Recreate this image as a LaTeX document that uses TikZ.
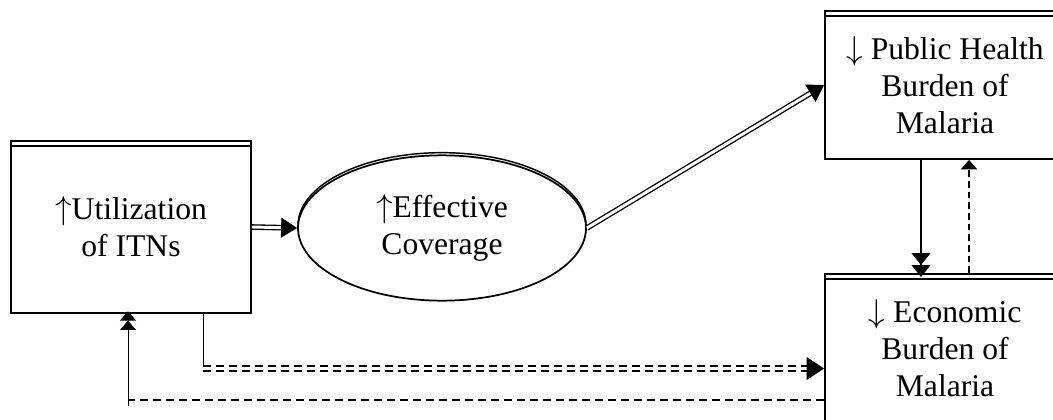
\documentclass[tikz,border=0pt]{standalone}
\usepackage{fontspec}
\setmainfont{Liberation Serif}
\usetikzlibrary{arrows.meta,shapes.geometric}

\tikzset{
  txt/.style={font=\fontsize{23.7}{27.75}\selectfont, align=center},
  box/.style={txt, draw, line width=1.4pt, minimum width=180pt, inner sep=2pt,
    path picture={\draw[line width=1.1pt]
      ([yshift=-3.75pt]path picture bounding box.north west) --
      ([yshift=-3.75pt]path picture bounding box.north east);}},
  oval/.style={txt, ellipse, draw, fill=white, line width=1.3pt,
    minimum width=216pt, minimum height=109pt, inner sep=0pt,
    preaction={draw, line width=1.1pt, transform canvas={yshift=2pt}}},
  dline/.style={double, line width=1pt, double distance=2.2pt,
    -{Triangle[length=12pt,width=15pt]}},
  sline/.style={line width=1.4pt,
    -{Triangle[length=9pt,width=14pt] Triangle[length=9pt,width=14pt,sep=-3pt]}},
  vdash/.style={line width=1.1pt, dash pattern=on 5pt off 3pt,
    -{Triangle[length=7pt,width=12pt]}},
  ddash/.style={double, line width=1pt, double distance=2.75pt,
    dash pattern=on 6pt off 3.75pt, -{Triangle[length=13pt,width=17pt]}},
  sdash/.style={line width=1.2pt, dash pattern=on 6pt off 3.75pt},
  thinl/.style={line width=0.7pt},
  upl/.style={thinl,
    -{Triangle[length=7pt,width=12pt] Triangle[length=7pt,width=12pt,sep=-2pt]}}
}

\begin{document}
\begin{tikzpicture}[x=0.75pt, y=-0.75pt]
  \useasboundingbox (0,0) rectangle (1053,419);

  % nodes
  \node[box, minimum height=129pt] (ut) at (131,227) {$\uparrow$Utilization\\of ITNs};
  \node[oval] (ec) at (442,228) {$\uparrow$Effective\\Coverage};
  \node[box, minimum height=111pt] (ph) at (945,85) {$\downarrow$ Public Health\\Burden of\\Malaria};
  \node[box, minimum height=111pt] (eb) at (945,348) {$\downarrow$ Economic\\Burden of\\Malaria};

  % main chain
  \draw[dline] (ut.east) -- (ec.west);
  \draw[dline] (ec.east) -- (ph.west);

  % between the two burdens
  \draw[sline] ([xshift=-18pt]ph.south) -- ([xshift=-18pt]eb.north);
  \draw[vdash] ([xshift=18pt]eb.north) -- ([xshift=18pt]ph.south);

  % feedback lines under the boxes
  \coordinate (dtop) at ([xshift=54pt]ut.south);
  \coordinate (dd) at (dtop |- 0,368.5);
  \draw[thinl] (dtop) -- ([yshift=-1.5pt]dd);
  \draw[ddash] (dd) -- (dd -| eb.west);

  \coordinate (utin) at ([xshift=-2.25pt]ut.south);
  \coordinate (bl) at (utin |- 0,400);
  \draw[sdash] (eb.west |- bl) -- (bl);
  \draw[upl] ([yshift=-4.5pt]bl) -- (utin);
\end{tikzpicture}
\end{document}
